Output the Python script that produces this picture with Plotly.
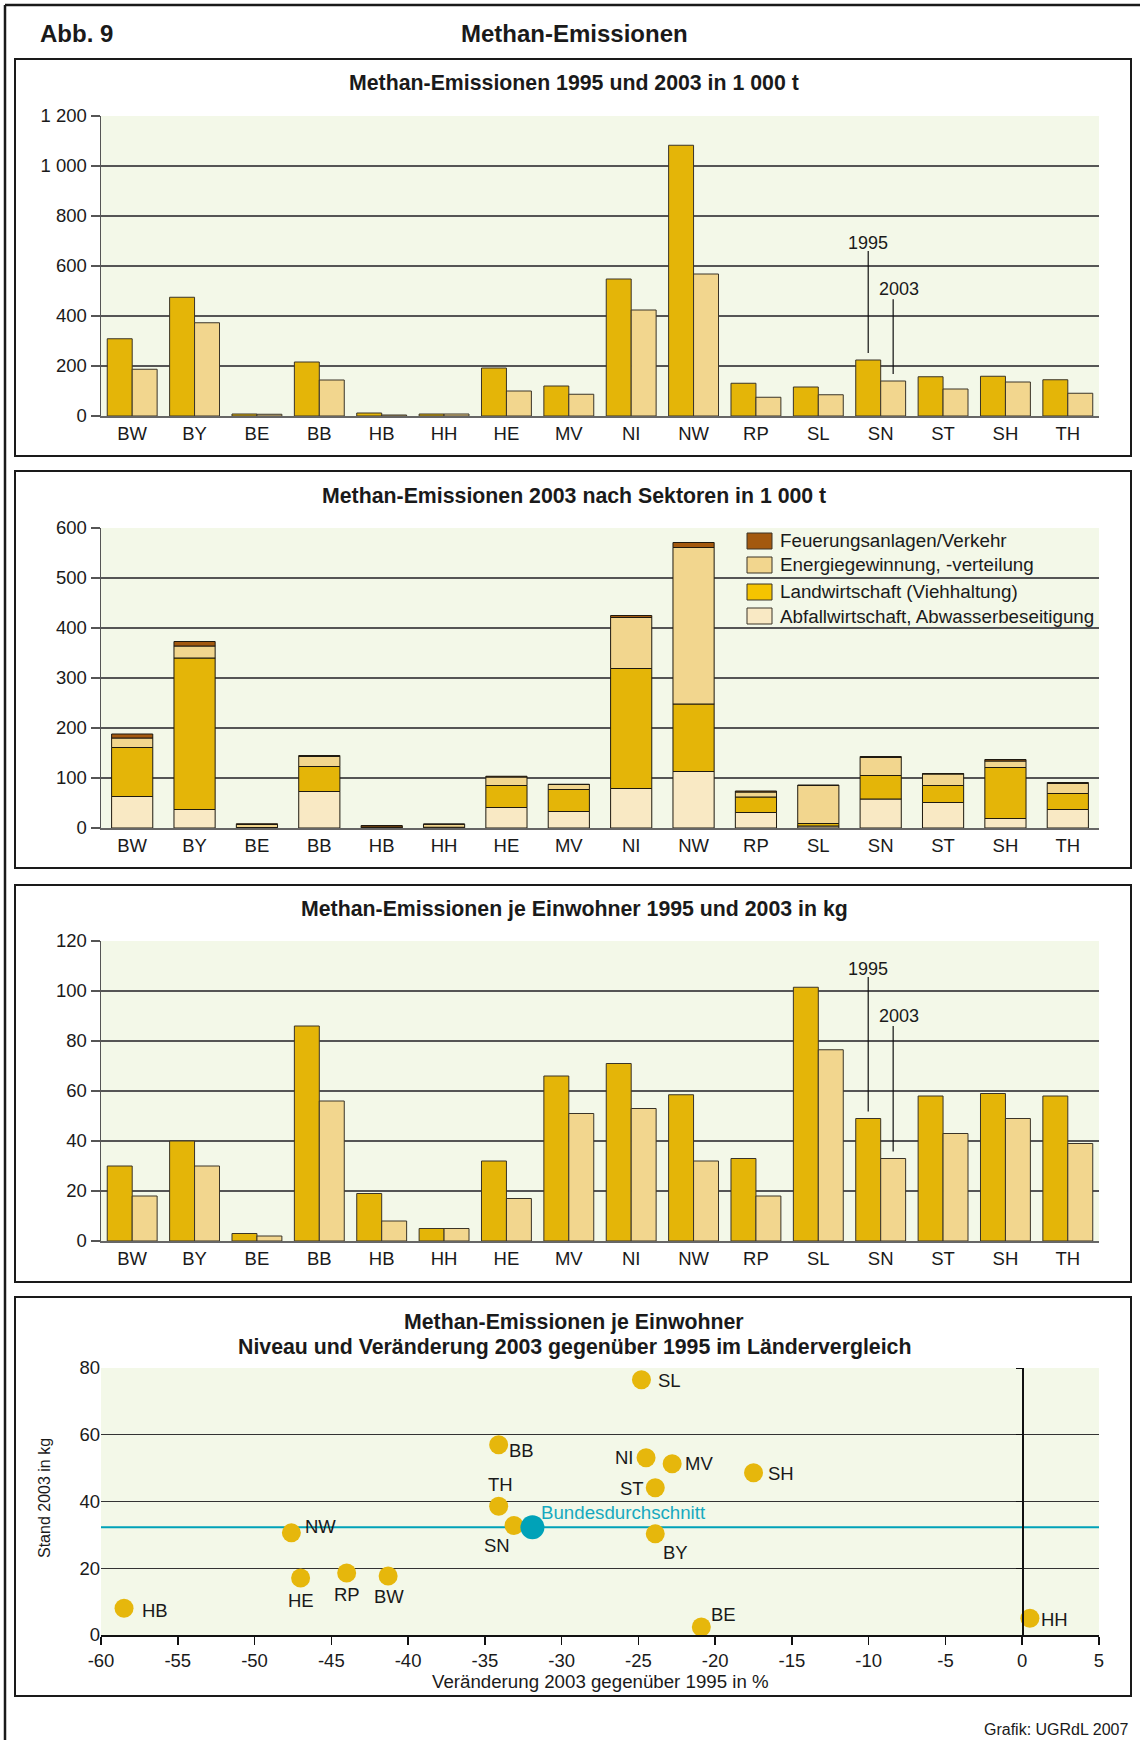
import plotly.graph_objects as go

W, H = 1140, 1740

# ---------------- DATA ----------------
laender = ["BW", "BY", "BE", "BB", "HB", "HH", "HE", "MV", "NI", "NW", "RP", "SL", "SN", "ST", "SH", "TH"]

# Chart 1: Methan-Emissionen 1995 und 2003 in 1 000 t
em_1995 = [309, 475, 8, 216, 12, 8, 192, 120, 548, 1083, 131, 116, 224, 157, 159, 145]
em_2003 = [187, 373, 7, 144, 4, 8, 100, 87, 424, 568, 75, 85, 140, 108, 136, 91]

# Chart 2: Methan-Emissionen 2003 nach Sektoren in 1 000 t
abfall = [63, 37, 1, 73, 1, 1, 41, 33, 79, 113, 31, 4, 58, 51, 19, 37]
landwirtschaft = [98, 303, 0, 50, 0.5, 0.5, 44, 44, 240, 135, 31, 5, 47, 34, 102, 32]
energie = [19, 24, 6, 20, 0.5, 6, 17, 10, 102, 313, 10, 76, 36, 23, 13, 20]
feuerung = [8, 9, 1.5, 2, 3, 0.5, 1.5, 0.5, 4, 10, 2, 1, 2, 1, 3, 2]
sektor_namen = ["Abfallwirtschaft, Abwasserbeseitigung", "Landwirtschaft (Viehhaltung)",
                "Energiegewinnung, -verteilung", "Feuerungsanlagen/Verkehr"]

# Chart 3: je Einwohner 1995 und 2003 in kg
kg_1995 = [30, 40, 3, 86, 19, 5, 32, 66, 71, 58.5, 33, 101.5, 49, 58, 59, 58]
kg_2003 = [18, 30, 2, 56, 8, 5, 17, 51, 53, 32, 18, 76.5, 33, 43, 49, 39]

# Chart 4: Niveau und Veraenderung
sc_laender = ["HB", "NW", "HE", "RP", "BW", "BB", "TH", "SN", "SL", "NI", "MV", "ST", "SH", "BY", "BE", "HH"]
veraenderung = [-58.5, -47.6, -47.0, -44.0, -41.3, -34.1, -34.1, -33.1, -24.8, -24.5, -22.8, -23.9, -17.5, -23.9, -20.9, 0.5]
stand_2003 = [8.0, 30.6, 17.1, 18.6, 17.7, 57.0, 38.6, 32.8, 76.5, 53.1, 51.3, 44.1, 48.6, 30.3, 2.4, 5.0]
bund_x = -31.9
bund_y = 32.3

y1_ticks = [0, 200, 400, 600, 800, 1000, 1200]
y1_text = ["0", "200", "400", "600", "800", "1 000", "1 200"]
y2_ticks = [0, 100, 200, 300, 400, 500, 600]
y3_ticks = [0, 20, 40, 60, 80, 100, 120]
x4_ticks = [-60, -55, -50, -45, -40, -35, -30, -25, -20, -15, -10, -5, 0, 5]
y4_ticks = [0, 20, 40, 60, 80]

# ---------------- STYLE ----------------
FONT = "Liberation Sans, Arial, sans-serif"
GOLD = "#E4B508"
TAN = "#F2D68E"
CREAM = "#F9E9C4"
BROWN = "#A3590F"
TEAL = "#00A2B8"
TEAL_TXT = "#17A9BF"
DOT = "#E6B70C"
EDGE = "#3a3428"
BG = "#F3F8E8"
GRID = "#555555"
TXT = 18.5
TITLE = 21.3

def P(x):
    return x / W

def Q(y):
    return 1 - y / H

PL, PR = 101, 1099
charts_px = {1: (116, 416), 2: (528, 828), 3: (941, 1241), 4: (1368, 1635)}

fig = go.Figure()
idx = list(range(len(laender)))

# Chart 1 bars
fig.add_trace(go.Bar(x=idx, y=em_1995, width=0.4, offset=-0.4, marker=dict(color=GOLD, line=dict(color=EDGE, width=1)),
                     xaxis="x", yaxis="y", showlegend=False))
fig.add_trace(go.Bar(x=idx, y=em_2003, width=0.4, offset=0.0, marker=dict(color=TAN, line=dict(color=EDGE, width=1)),
                     xaxis="x", yaxis="y", showlegend=False))

# Chart 2 stacked bars
sektoren = [abfall, landwirtschaft, energie, feuerung]
sek_colors = [CREAM, GOLD, TAN, BROWN]
base = [0] * len(laender)
for vals, col, name in zip(sektoren, sek_colors, sektor_namen):
    fig.add_trace(go.Bar(x=idx, y=vals, base=list(base), width=0.66, offset=-0.33, name=name,
                         marker=dict(color=col, line=dict(color="#1f1a10", width=1)),
                         xaxis="x2", yaxis="y2", showlegend=False))
    base = [b + v for b, v in zip(base, vals)]

# Chart 3 bars
fig.add_trace(go.Bar(x=idx, y=kg_1995, width=0.4, offset=-0.4, marker=dict(color=GOLD, line=dict(color=EDGE, width=1)),
                     xaxis="x3", yaxis="y3", showlegend=False))
fig.add_trace(go.Bar(x=idx, y=kg_2003, width=0.4, offset=0.0, marker=dict(color=TAN, line=dict(color=EDGE, width=1)),
                     xaxis="x3", yaxis="y3", showlegend=False))

# Chart 4: average line + points
fig.add_trace(go.Scatter(x=[x4_ticks[0], x4_ticks[-1]], y=[bund_y, bund_y], mode="lines",
                         line=dict(color=TEAL, width=2), xaxis="x4", yaxis="y4", showlegend=False))
fig.add_trace(go.Scatter(x=veraenderung, y=stand_2003, mode="markers",
                         marker=dict(color=DOT, size=19, line=dict(width=0)),
                         xaxis="x4", yaxis="y4", showlegend=False))
fig.add_trace(go.Scatter(x=[bund_x], y=[bund_y], mode="markers",
                         marker=dict(color=TEAL, size=24, line=dict(width=0)),
                         xaxis="x4", yaxis="y4", showlegend=False))

tickfont = dict(family=FONT, size=TXT, color="#1a1a1a")

def bar_x(domain_anchor):
    return dict(domain=[P(PL), P(PR)], range=[-0.5, 15.5], tickvals=idx, ticktext=laender,
                showline=True, linecolor="#666", linewidth=1.5, ticks="", showgrid=False,
                zeroline=False, tickfont=tickfont, anchor=domain_anchor, fixedrange=True,
                automargin=False)

def bar_y(k, rng, tv, tt, anchor):
    top, bot = charts_px[k]
    return dict(domain=[Q(bot), Q(top)], range=rng, tickvals=tv, ticktext=tt, showline=True,
                linecolor="#555", linewidth=1.5, ticks="outside", ticklen=9, tickcolor="#555",
                tickwidth=1.5, showgrid=True, gridcolor=GRID, gridwidth=1.2, zeroline=False,
                tickfont=tickfont, anchor=anchor, fixedrange=True, automargin=False)

top4, bot4 = charts_px[4]
x0_pos = P(PL + (0 - x4_ticks[0]) / (x4_ticks[-1] - x4_ticks[0]) * (PR - PL))

fig.update_layout(
    width=W, height=H, autosize=False,
    margin=dict(l=0, r=0, t=0, b=0, pad=0, autoexpand=False),
    paper_bgcolor="white", plot_bgcolor=BG, barmode="overlay",
    font=dict(family=FONT, color="#1a1a1a"),
    xaxis=bar_x("y"),
    yaxis=bar_y(1, [0, 1200], y1_ticks, y1_text, "x"),
    xaxis2=bar_x("y2"),
    yaxis2=bar_y(2, [0, 600], y2_ticks, [str(v) for v in y2_ticks], "x2"),
    xaxis3=bar_x("y3"),
    yaxis3=bar_y(3, [0, 120], y3_ticks, [str(v) for v in y3_ticks], "x3"),
    xaxis4=dict(domain=[P(PL), P(PR)], range=[x4_ticks[0], x4_ticks[-1]], tickvals=x4_ticks,
                ticktext=[str(v) for v in x4_ticks], showline=True, linecolor="#111", linewidth=1.5,
                ticks="outside", ticklen=8, tickwidth=1.5, tickcolor="#111", showgrid=False,
                zeroline=False, tickfont=tickfont, anchor="y4", fixedrange=True, automargin=False),
    yaxis4=dict(domain=[Q(bot4), Q(top4)], range=[y4_ticks[0], y4_ticks[-1]], tickvals=y4_ticks,
                ticktext=[str(v) for v in y4_ticks], showline=False, ticks="", showgrid=True,
                gridcolor="#333", gridwidth=1.2, zeroline=False, tickfont=tickfont, anchor="x4",
                fixedrange=True, automargin=False),
    yaxis5=dict(domain=[Q(bot4), Q(top4)], range=[y4_ticks[0], y4_ticks[-1]], tickvals=y4_ticks,
                overlaying="y4", anchor="free", position=x0_pos, side="left", showline=True,
                linecolor="#111", linewidth=1.5, ticks="outside", ticklen=6, tickcolor="#111",
                showticklabels=False, showgrid=False, zeroline=False, fixedrange=True, automargin=False),
)
# invisible trace to activate yaxis5
fig.add_trace(go.Scatter(x=[0], y=[0], mode="markers", marker=dict(opacity=0), xaxis="x4", yaxis="y5",
                         showlegend=False, hoverinfo="skip"))

shapes = []
# outer frame
shapes.append(dict(type="line", xref="paper", yref="paper", x0=P(5), x1=P(1140), y0=Q(5), y1=Q(5),
                   line=dict(color="#1a1a1a", width=2.5)))
shapes.append(dict(type="line", xref="paper", yref="paper", x0=P(5), x1=P(5), y0=Q(5), y1=Q(1740),
                   line=dict(color="#1a1a1a", width=2.5)))
# boxes
for (bt, bb) in [(59, 456), (471, 868), (885, 1282), (1297, 1696)]:
    shapes.append(dict(type="rect", xref="paper", yref="paper", x0=P(15), x1=P(1131), y0=Q(bb), y1=Q(bt),
                       line=dict(color="#1a1a1a", width=2), layer="below"))

annotations = []
# Leader lines "1995" / "2003" in charts 1 and 3 (SN)
sn = laender.index("SN")
leader_cfg = [
    # (xref, yref, v1995, v2003, px_per_unit, top1995, top2003)
    ("x", "y", em_1995[sn], em_2003[sn], 0.25, 660, 467),
    ("x3", "y3", kg_1995[sn], kg_2003[sn], 2.5, 105.6, 86),
]
for xr, yr, v95, v03, ppu, t95, t03 in leader_cfg:
    gap = 7 / ppu
    shapes.append(dict(type="line", xref=xr, yref=yr, x0=sn - 0.2, x1=sn - 0.2, y0=v95 + gap, y1=t95,
                       line=dict(color="#111", width=1.2)))
    shapes.append(dict(type="line", xref=xr, yref=yr, x0=sn + 0.2, x1=sn + 0.2, y0=v03 + gap, y1=t03,
                       line=dict(color="#111", width=1.2)))
    annotations.append(dict(xref=xr, yref=yr, x=sn - 0.2, y=t95, text="1995", showarrow=False,
                            yanchor="middle", yshift=8, font=dict(size=18)))
    annotations.append(dict(xref=xr, yref=yr, x=sn + 0.2, y=t03, text="2003", showarrow=False,
                            yanchor="middle", yshift=10, xshift=6, font=dict(size=18)))

# custom legend chart 2
leg_items = [(3, 541), (2, 565), (1, 592), (0, 616)]
for k, yc in leg_items:
    shapes.append(dict(type="rect", xref="paper", yref="paper", x0=P(747), x1=P(772), y0=Q(yc + 8), y1=Q(yc - 8),
                       fillcolor=sek_colors[k] if k != 1 else "#F5C400", line=dict(color="#3a3428", width=1)))
    annotations.append(dict(xref="paper", yref="paper", x=P(778), y=Q(yc), text=sektor_namen[k], showarrow=False,
                            xanchor="left", yanchor="middle", font=dict(size=18.8)))

# scatter labels
label_off = {"HB": (31, -2), "NW": (29, 6), "HE": (0, -23), "RP": (0, -22), "BW": (1, -21),
             "BB": (23, -6), "TH": (2, 22), "SN": (-17, -20), "SL": (28, -1), "NI": (-22, 0),
             "MV": (27, 0), "ST": (-23, -1), "SH": (27, -1), "BY": (20, -19), "BE": (22, 12),
             "HH": (25, -1)}
for name, xv, yv in zip(sc_laender, veraenderung, stand_2003):
    dx, dy = label_off[name]
    annotations.append(dict(xref="x4", yref="y4", x=xv, y=yv, text=name, showarrow=False,
                            xshift=dx, yshift=dy, font=dict(size=TXT)))
annotations.append(dict(xref="x4", yref="y4", x=bund_x, y=bund_y, text="Bundesdurchschnitt", showarrow=False,
                        xanchor="left", xshift=7, yshift=15, font=dict(size=18.7, color=TEAL_TXT)))

# titles
annotations += [
    dict(xref="paper", yref="paper", x=P(38), y=Q(34), text="<b>Abb. 9</b>", showarrow=False,
         xanchor="left", yanchor="middle", font=dict(size=24)),
    dict(xref="paper", yref="paper", x=P(574), y=Q(34), text="<b>Methan-Emissionen</b>", showarrow=False,
         yanchor="middle", font=dict(size=24)),
    dict(xref="paper", yref="paper", x=P(574), y=Q(83), text="<b>Methan-Emissionen 1995 und 2003 in 1 000 t</b>",
         showarrow=False, yanchor="middle", font=dict(size=TITLE)),
    dict(xref="paper", yref="paper", x=P(574), y=Q(496), text="<b>Methan-Emissionen 2003 nach Sektoren in 1 000 t</b>",
         showarrow=False, yanchor="middle", font=dict(size=TITLE)),
    dict(xref="paper", yref="paper", x=P(574), y=Q(909), text="<b>Methan-Emissionen je Einwohner 1995 und 2003 in kg</b>",
         showarrow=False, yanchor="middle", font=dict(size=TITLE)),
    dict(xref="paper", yref="paper", x=P(574), y=Q(1322), text="<b>Methan-Emissionen je Einwohner</b>",
         showarrow=False, yanchor="middle", font=dict(size=TITLE)),
    dict(xref="paper", yref="paper", x=P(574), y=Q(1347),
         text="<b>Niveau und Veränderung 2003 gegenüber 1995 im Ländervergleich</b>",
         showarrow=False, yanchor="middle", font=dict(size=TITLE)),
    dict(xref="paper", yref="paper", x=P(600), y=Q(1681), text="Veränderung 2003 gegenüber 1995 in %",
         showarrow=False, yanchor="middle", font=dict(size=18.7)),
    dict(xref="paper", yref="paper", x=P(44), y=Q(1498), text="Stand 2003 in kg", textangle=-90,
         showarrow=False, xanchor="center", yanchor="middle", font=dict(size=16)),
    dict(xref="paper", yref="paper", x=P(1130), y=Q(1729), text="Grafik: UGRdL 2007",
         showarrow=False, xanchor="right", yanchor="middle", font=dict(size=16)),
]

fig.update_layout(shapes=shapes, annotations=annotations)
fig.write_html("out.html", config={"displayModeBar": False, "staticPlot": True},
               post_script="document.body.style.margin='0';document.body.style.overflow='hidden';")
